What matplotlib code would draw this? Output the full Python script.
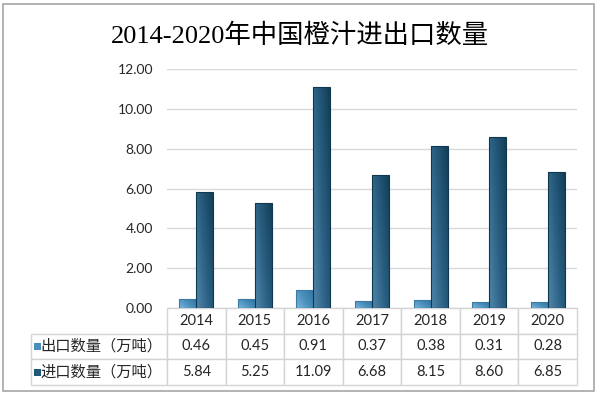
import numpy as np
import matplotlib
matplotlib.use("Agg")
import matplotlib.pyplot as plt
from matplotlib.patches import Rectangle
from matplotlib.table import Table
from matplotlib.colors import LinearSegmentedColormap

plt.rcParams['font.family'] = ['Lato', 'Noto Sans CJK SC', 'DejaVu Sans']

years = ['2014', '2015', '2016', '2017', '2018', '2019', '2020']
export_vals = [0.46, 0.45, 0.91, 0.37, 0.38, 0.31, 0.28]
import_vals = [5.84, 5.25, 11.09, 6.68, 8.15, 8.60, 6.85]
series_names = ['出口数量（万吨）', '进口数量（万吨）']
yticks = [0, 2, 4, 6, 8, 10, 12]
title = '2014-2020年中国橙汁进出口数量'

W, H = 600, 395
fig = plt.figure(figsize=(W / 100, H / 100), dpi=100)
fig.patch.set_facecolor('white')

# outer frame
fig.add_artist(Rectangle((3 / W, 1 - 391 / H), 591 / W, 387 / H, transform=fig.transFigure,
                         fill=False, edgecolor='#a6a6a6', linewidth=1.2))

ax = fig.add_axes([167 / W, 1 - 308 / H, 410 / W, 239 / H])
ax.set_facecolor('none')
for s in ax.spines.values():
    s.set_visible(False)

x = np.arange(len(years))
bw = 0.29
cmap_exp = LinearSegmentedColormap.from_list('e', ['#7ab6da', '#4b90bd', '#2f75a3'])
cmap_imp = LinearSegmentedColormap.from_list('i', ['#4f86ab', '#2a5f82', '#123f58'])

ax.set_xlim(-0.5, len(years) - 0.5)
ax.set_ylim(0, 12)

def shade(bars, cmap, edge):
    gx, gy = np.meshgrid(np.linspace(0, 1, 32), np.linspace(0, 1, 64))
    grad = 0.6 * gx + 0.4 * (1 - gy)
    for b in bars:
        x0, y0 = b.get_x(), b.get_y()
        w, h = b.get_width(), b.get_height()
        im = ax.imshow(grad, extent=[x0, x0 + w, y0, y0 + h], origin='upper',
                       aspect='auto', cmap=cmap, vmin=0, vmax=1, zorder=3)
        im.set_clip_path(b)
        b.set_edgecolor(edge)
        b.set_linewidth(0.8)
        b.set_facecolor('none')
        b.set_zorder(4)

b1 = ax.bar(x - bw / 2, export_vals, bw, color='#4b90bd')
b2 = ax.bar(x + bw / 2, import_vals, bw, color='#1f5878')
shade(b1, cmap_exp, '#3a7aa3')
shade(b2, cmap_imp, '#10374d')
ax.set_xlim(-0.5, len(years) - 0.5)
ax.set_ylim(0, 12)

ax.set_yticks(yticks)
ax.set_yticklabels([f'{v:.2f}' for v in yticks], fontsize=10, color='#262626')
ax.tick_params(axis='y', length=0, pad=10)
ax.tick_params(axis='x', length=0, labelbottom=False)
ax.grid(axis='y', color='#d9d9d9', linewidth=1)
ax.set_axisbelow(True)

# data table (column 0 = row labels)
lab_w = 136 / 410
col_w = 1 / len(years)
tab = Table(ax, bbox=[-lab_w, -77 / 239, 1 + lab_w, 77 / 239])
rows = [[str(y) for y in years],
        [f'{v:.2f}' for v in export_vals],
        [f'{v:.2f}' for v in import_vals]]
labels = [''] + series_names
for r in range(3):
    c = tab.add_cell(r, 0, width=lab_w, height=1 / 3, text=labels[r], loc='left')
    c.set_edgecolor('#d4d4d4')
    c.set_linewidth(1)
    c.get_text().set_fontsize(11)
    c.get_text().set_color('#262626')
    c.PAD = 0.07
    if r == 0:
        c.visible_edges = ''
    for j in range(len(years)):
        cc = tab.add_cell(r, j + 1, width=col_w, height=1 / 3, text=rows[r][j], loc='center')
        cc.set_edgecolor('#d4d4d4')
        cc.set_linewidth(1)
        cc.get_text().set_fontsize(10.5)
        cc.get_text().set_color('#262626')
tab.auto_set_font_size(False)
ax.add_table(tab)

# legend keys inside row-label cells
key_cols = ['#4b90bd', '#1f5878']
for i, col in enumerate(key_cols):
    yc = 1 - (333 + 26 * i + 13) / H
    fig.add_artist(Rectangle((34 / W, yc - 3.5 / H), 6.5 / W, 7 / H, transform=fig.transFigure,
                             facecolor=col, edgecolor='none'))

fig.text(0.5, 1 - 36 / H, title, ha='center', va='center', fontsize=19,
         family=['Liberation Serif', 'Noto Sans CJK SC'], color='#000000')

fig.savefig('out.png', dpi=100)
